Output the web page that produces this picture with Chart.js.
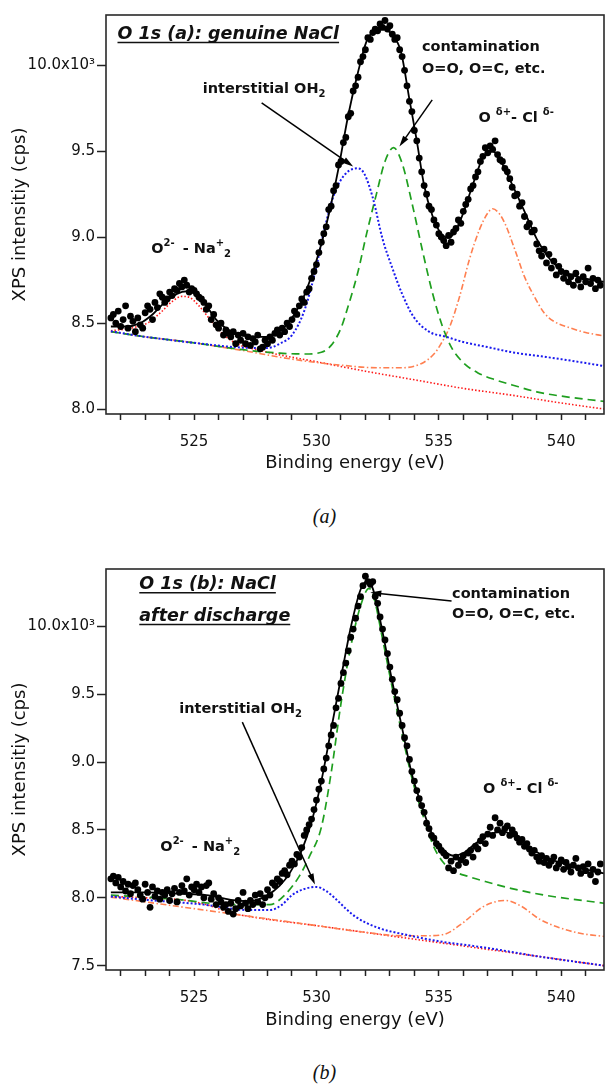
<!DOCTYPE html>
<html>
<head>
<meta charset="utf-8">
<script src="https://cdn.jsdelivr.net/npm/chart.js@4.4.0/dist/chart.umd.min.js"></script>
<style>
    body { margin: 0; background: #fff; width: 608px; height: 1084px; position: relative; overflow: hidden; }
    canvas { position: absolute; left: 0; }
    #chartA { top: 0; }
    #chartB { top: 540px; }
    .caption { position: absolute; left: 0; width: 649px; text-align: center; line-height: 24px;
               font: italic 20px "Liberation Serif", serif; color: #111; }
</style>
</head>
<body>
<canvas id="chartA" width="608" height="476"></canvas>
<div class="caption" style="top:505px">(a)</div>
<canvas id="chartB" width="608" height="493"></canvas>
<div class="caption" style="top:1061px">(b)</div>
<script>
// 測定点のエネルギー (eV)
const energy = [
    521.6, 521.7, 521.8, 521.9, 522.0, 522.1, 522.2, 522.3, 522.4, 522.5,
    522.6, 522.7, 522.8, 522.9, 523.0, 523.1, 523.2, 523.3, 523.4, 523.5,
    523.6, 523.7, 523.8, 523.9, 524.0, 524.1, 524.2, 524.3, 524.4, 524.5,
    524.6, 524.7, 524.8, 524.9, 525.0, 525.1, 525.2, 525.3, 525.4, 525.5,
    525.6, 525.7, 525.8, 525.9, 526.0, 526.1, 526.2, 526.3, 526.4, 526.5,
    526.6, 526.7, 526.8, 526.9, 527.0, 527.1, 527.2, 527.3, 527.4, 527.5,
    527.6, 527.7, 527.8, 527.9, 528.0, 528.1, 528.2, 528.3, 528.4, 528.5,
    528.6, 528.7, 528.8, 528.9, 529.0, 529.1, 529.2, 529.3, 529.4, 529.5,
    529.6, 529.7, 529.8, 529.9, 530.0, 530.1, 530.2, 530.3, 530.4, 530.5,
    530.6, 530.7, 530.8, 530.9, 531.0, 531.1, 531.2, 531.3, 531.4, 531.5,
    531.6, 531.7, 531.8, 531.9, 532.0, 532.1, 532.2, 532.3, 532.4, 532.5,
    532.6, 532.7, 532.8, 532.9, 533.0, 533.1, 533.2, 533.3, 533.4, 533.5,
    533.6, 533.7, 533.8, 533.9, 534.0, 534.1, 534.2, 534.3, 534.4, 534.5,
    534.6, 534.7, 534.8, 534.9, 535.0, 535.1, 535.2, 535.3, 535.4, 535.5,
    535.6, 535.7, 535.8, 535.9, 536.0, 536.1, 536.2, 536.3, 536.4, 536.5,
    536.6, 536.7, 536.8, 536.9, 537.0, 537.1, 537.2, 537.3, 537.4, 537.5,
    537.6, 537.7, 537.8, 537.9, 538.0, 538.1, 538.2, 538.3, 538.4, 538.5,
    538.6, 538.7, 538.8, 538.9, 539.0, 539.1, 539.2, 539.3, 539.4, 539.5,
    539.6, 539.7, 539.8, 539.9, 540.0, 540.1, 540.2, 540.3, 540.4, 540.5,
    540.6, 540.7, 540.8, 540.9, 541.0, 541.1, 541.2, 541.3, 541.4, 541.5,
    541.6
];

// (a) genuine NaCl の計測値 (x10^3 cps)
const countsA = [
    8.53, 8.55, 8.50, 8.57, 8.48, 8.52, 8.60, 8.47, 8.54, 8.51,
    8.45, 8.53, 8.49, 8.47, 8.56, 8.60, 8.58, 8.52, 8.62, 8.59,
    8.67, 8.65, 8.62, 8.64, 8.68, 8.66, 8.70, 8.69, 8.73, 8.71,
    8.75, 8.72, 8.68, 8.70, 8.69, 8.67, 8.65, 8.64, 8.62, 8.58,
    8.60, 8.52, 8.55, 8.49, 8.47, 8.50, 8.43, 8.46, 8.44, 8.42,
    8.45, 8.38, 8.43, 8.40, 8.44, 8.38, 8.42, 8.37, 8.41, 8.39,
    8.43, 8.35, 8.36, 8.40, 8.38, 8.42, 8.40, 8.44, 8.46, 8.43,
    8.47, 8.45, 8.50, 8.48, 8.52, 8.57, 8.55, 8.60, 8.64, 8.62,
    8.68, 8.70, 8.76, 8.80, 8.84, 8.91, 8.97, 9.02, 9.06, 9.16,
    9.18, 9.27, 9.30, 9.42, 9.44, 9.55, 9.58, 9.70, 9.72, 9.85,
    9.88, 9.93, 10.02, 10.05, 10.09, 10.16, 10.15, 10.19, 10.21, 10.20,
    10.24, 10.22, 10.26, 10.21, 10.23, 10.18, 10.15, 10.16, 10.09, 10.05,
    9.97, 9.88, 9.79, 9.73, 9.62, 9.56, 9.46, 9.38, 9.30, 9.25,
    9.18, 9.16, 9.10, 9.07, 9.02, 9.00, 8.98, 8.95, 9.01, 8.97,
    9.03, 9.05, 9.10, 9.08, 9.15, 9.19, 9.22, 9.28, 9.30, 9.35,
    9.38, 9.44, 9.47, 9.52, 9.49, 9.53, 9.51, 9.56, 9.48, 9.45,
    9.44, 9.40, 9.38, 9.34, 9.29, 9.24, 9.25, 9.18, 9.20, 9.12,
    9.06, 9.08, 9.03, 9.04, 8.96, 8.92, 8.89, 8.93, 8.85, 8.90,
    8.82, 8.86, 8.78, 8.83, 8.80, 8.76, 8.79, 8.74, 8.77, 8.72,
    8.79, 8.75, 8.71, 8.77, 8.74, 8.82, 8.73, 8.76, 8.70, 8.75,
    8.72
];

// (b) NaCl after discharge の計測値 (x10^3 cps)
const countsB = [
    8.14, 8.16, 8.11, 8.15, 8.08, 8.12, 8.05, 8.10, 8.03, 8.09,
    8.11, 8.06, 8.02, 7.99, 8.10, 8.04, 7.93, 8.08, 8.01, 8.05,
    7.99, 8.04, 8.02, 8.06, 7.98, 8.03, 8.07, 7.97, 8.04, 8.09,
    8.05, 8.14, 8.02, 8.08, 8.06, 8.10, 8.04, 8.08, 8.00, 8.09,
    8.11, 7.99, 8.03, 7.95, 8.00, 7.97, 7.93, 7.95, 7.90, 7.96,
    7.88, 7.92, 7.98, 7.94, 8.04, 7.96, 7.92, 7.98, 7.95, 8.02,
    7.97, 8.03, 7.95, 8.00, 8.06, 8.02, 8.11, 8.09, 8.14, 8.12,
    8.18, 8.20, 8.17, 8.24, 8.27, 8.25, 8.32, 8.30, 8.37, 8.46,
    8.50, 8.54, 8.58, 8.65, 8.72, 8.80, 8.86, 8.95, 9.03, 9.12,
    9.20, 9.27, 9.40, 9.47, 9.58, 9.66, 9.73, 9.82, 9.92, 9.98,
    10.06, 10.15, 10.22, 10.30, 10.37, 10.33, 10.31, 10.33, 10.22, 10.17,
    10.07, 9.98, 9.90, 9.80, 9.70, 9.61, 9.52, 9.46, 9.36, 9.27,
    9.18, 9.12, 9.02, 8.93, 8.86, 8.79, 8.73, 8.68, 8.63, 8.55,
    8.51, 8.46, 8.44, 8.40, 8.38, 8.35, 8.33, 8.31, 8.22, 8.27,
    8.20, 8.30, 8.24, 8.28, 8.31, 8.26, 8.33, 8.35, 8.30, 8.38,
    8.36, 8.42, 8.45, 8.40, 8.47, 8.52, 8.46, 8.59, 8.50, 8.55,
    8.48, 8.51, 8.53, 8.46, 8.50, 8.47, 8.44, 8.41, 8.43, 8.38,
    8.40, 8.36, 8.33, 8.35, 8.30, 8.27, 8.31, 8.26, 8.29, 8.24,
    8.27, 8.30, 8.22, 8.25, 8.28, 8.21, 8.26, 8.23, 8.19, 8.24,
    8.29, 8.22, 8.18, 8.23, 8.20, 8.25, 8.17, 8.21, 8.12, 8.19,
    8.25
];

// フィット曲線と成分 [eV, x10^3 cps]
const fitA = [
    [521.6, 8.48], [522.2, 8.48], [522.8, 8.50], [523.3, 8.55], [523.8, 8.62], [524.3, 8.67],
    [524.7, 8.685], [525.1, 8.665], [525.5, 8.60], [525.9, 8.52], [526.3, 8.47], [526.8, 8.435],
    [527.4, 8.42], [528.0, 8.42], [528.4, 8.44], [528.9, 8.51], [529.5, 8.66], [530.1, 8.91],
    [530.5, 9.13], [530.9, 9.40], [531.3, 9.71], [531.7, 9.96], [532.05, 10.14], [532.4, 10.205],
    [532.7, 10.225], [533.0, 10.19], [533.45, 10.08], [533.8, 9.80], [534.1, 9.56], [534.4, 9.30],
    [534.75, 9.12], [535.05, 9.03], [535.4, 8.995], [535.7, 9.04], [536.0, 9.14], [536.4, 9.31],
    [536.8, 9.46], [537.2, 9.50], [537.5, 9.45], [537.95, 9.32], [538.5, 9.15], [539.0, 8.99],
    [539.55, 8.87], [540.1, 8.80], [540.65, 8.77], [541.75, 8.74]
];
const naA = [
    [521.6, 8.455], [522.2, 8.465], [522.7, 8.48], [523.1, 8.50], [523.7, 8.57], [524.1, 8.625],
    [524.5, 8.655], [524.8, 8.65], [525.2, 8.60], [525.6, 8.53], [526.0, 8.46], [526.4, 8.41],
    [526.9, 8.37], [527.4, 8.35], [528.5, 8.315], [530.0, 8.275], [532.0, 8.22], [534.0, 8.17],
    [536.0, 8.12], [538.0, 8.08], [540.0, 8.035], [541.75, 8.00]
];
const ohA = [
    [521.6, 8.452], [523.0, 8.42], [525.0, 8.385], [527.0, 8.357], [528.0, 8.355], [528.5, 8.38],
    [529.0, 8.43], [529.5, 8.57], [529.95, 8.80], [530.35, 9.06], [530.75, 9.26], [531.2, 9.37],
    [531.7, 9.40], [531.95, 9.37], [532.3, 9.23], [532.7, 8.99], [533.1, 8.82], [533.5, 8.67],
    [533.95, 8.54], [534.6, 8.45], [535.3, 8.42], [536.0, 8.39], [537.0, 8.36], [538.0, 8.33],
    [539.0, 8.31], [540.0, 8.29], [541.75, 8.25]
];
const contA = [
    [521.6, 8.45], [523.0, 8.42], [525.0, 8.385], [527.0, 8.345], [528.5, 8.325], [529.5, 8.32],
    [530.2, 8.33], [530.6, 8.37], [531.0, 8.47], [531.3, 8.60], [531.7, 8.80], [532.05, 9.02],
    [532.45, 9.25], [532.8, 9.44], [533.15, 9.52], [533.5, 9.43], [533.9, 9.20], [534.35, 8.91],
    [534.75, 8.67], [535.15, 8.48], [535.55, 8.35], [536.0, 8.27], [536.6, 8.21], [537.3, 8.17],
    [538.0, 8.14], [539.0, 8.10], [540.0, 8.075], [541.75, 8.044]
];
const clA = [
    [521.6, 8.45], [523.0, 8.42], [525.0, 8.385], [527.0, 8.34], [529.0, 8.29], [531.0, 8.255],
    [532.5, 8.24], [533.5, 8.24], [534.3, 8.265], [534.8, 8.32], [535.05, 8.37], [535.45, 8.48],
    [535.85, 8.655], [536.25, 8.87], [536.65, 9.04], [537.0, 9.14], [537.2, 9.165], [537.45, 9.14],
    [537.7, 9.08], [538.1, 8.93], [538.5, 8.77], [538.9, 8.655], [539.3, 8.56], [539.7, 8.51],
    [540.4, 8.47], [541.0, 8.445], [541.75, 8.425]
];

const fitB = [
    [521.6, 8.04], [523.0, 8.04], [524.5, 8.03], [525.5, 8.02], [526.5, 7.985], [527.3, 7.975],
    [528.0, 8.02], [528.5, 8.09], [528.9, 8.18], [529.4, 8.35], [529.8, 8.56], [530.2, 8.86],
    [530.6, 9.24], [531.0, 9.62], [531.4, 9.99], [531.8, 10.27], [532.05, 10.33], [532.3, 10.28],
    [532.7, 9.96], [533.1, 9.59], [533.5, 9.25], [533.9, 8.91], [534.3, 8.68], [534.7, 8.48],
    [535.1, 8.37], [535.6, 8.31], [536.0, 8.33], [536.5, 8.40], [537.0, 8.46], [537.6, 8.49],
    [538.2, 8.44], [538.7, 8.37], [539.5, 8.29], [540.5, 8.23], [541.75, 8.18]
];
const naB = [
    [521.6, 8.01], [523.0, 8.00], [524.5, 7.985], [525.5, 7.95], [526.5, 7.89], [527.5, 7.855],
    [530.0, 7.795], [533.0, 7.72], [536.0, 7.645], [539.0, 7.57], [541.75, 7.50]
];
const ohB = [
    [521.6, 8.01], [522.7, 7.99], [525.4, 7.95], [527.2, 7.91], [528.1, 7.91], [528.6, 7.95],
    [529.0, 8.02], [529.5, 8.065], [530.0, 8.08], [530.4, 8.05], [530.8, 7.99], [531.2, 7.92],
    [531.6, 7.86], [532.5, 7.78], [533.6, 7.73], [535.0, 7.68], [537.0, 7.63], [539.0, 7.57],
    [541.75, 7.50]
];
const contB = [
    [521.6, 8.02], [524.2, 7.99], [526.5, 7.95], [528.1, 7.95], [528.7, 8.02], [529.3, 8.16],
    [529.7, 8.30], [530.2, 8.52], [530.6, 8.92], [531.0, 9.43], [531.4, 9.85], [531.8, 10.15],
    [532.15, 10.28], [532.35, 10.21], [532.72, 9.89], [533.13, 9.52], [533.54, 9.17], [533.94, 8.855],
    [534.35, 8.61], [534.76, 8.39], [535.16, 8.265], [535.57, 8.20], [536.25, 8.155], [536.9, 8.12],
    [537.94, 8.07], [539.3, 8.02], [541.75, 7.96]
];
const clB = [
    [521.6, 8.005], [524.0, 7.945], [527.0, 7.87], [530.0, 7.795], [532.0, 7.745], [533.5, 7.72],
    [534.4, 7.72], [535.2, 7.73], [535.98, 7.815], [536.77, 7.93], [537.4, 7.975], [537.72, 7.98],
    [538.35, 7.94], [539.14, 7.84], [539.93, 7.78], [540.72, 7.74], [541.75, 7.715]
];

// 軸の目盛り
const xRange = [521.4, 541.75];
const xTicks = [522, 523, 524, 525, 526, 527, 528, 529, 530, 531, 532, 533, 534, 535, 536, 537, 538, 539, 540, 541];
const xLabels = [525, 530, 535, 540];
const yRangeA = [7.971, 10.292];
const yTicksA = [8.0, 8.5, 9.0, 9.5, 10.0];
const yRangeB = [7.468, 10.423];
const yTicksB = [7.5, 8.0, 8.5, 9.0, 9.5, 10.0];

const FONT = 'DejaVu Sans';
const pts = arr => arr.map(([x, y]) => ({ x, y }));
const dots = counts => energy.map((e, i) => ({ x: e, y: counts[i] }));

const curve = (data, color, dash, width, order) => ({
    data: pts(data),
    showLine: true,
    borderColor: color,
    borderWidth: width,
    borderDash: dash,
    pointRadius: 0,
    fill: false,
    cubicInterpolationMode: 'monotone',
    order
});

// 上付き・下付きを含む文字列
function drawRich(ctx, x, y, parts, o = {}) {
    const size = o.size || 14.5;
    const base = o.baseline ? y : y + size * 0.36;
    let cx = x;
    ctx.fillStyle = '#111';
    ctx.textAlign = 'left';
    ctx.textBaseline = 'alphabetic';
    parts.forEach(p => {
        const s = p.sup || p.sub ? 10 : size;
        ctx.font = `${o.italic ? 'italic ' : ''}bold ${s}px "${FONT}"`;
        ctx.fillText(p.t, cx, base + (p.sup ? -7 : p.sub ? 4 : 0));
        cx += ctx.measureText(p.t).width + (p.gap || 0);
    });
    if (o.underline) {
        ctx.strokeStyle = '#111';
        ctx.lineWidth = 1.5;
        ctx.beginPath();
        ctx.moveTo(x, base + 3.5);
        ctx.lineTo(cx, base + 3.5);
        ctx.stroke();
    }
}

function drawArrow(ctx, x1, y1, x2, y2) {
    const a = Math.atan2(y2 - y1, x2 - x1);
    const L = 11, W = 3.2;
    const c = Math.cos(a), s = Math.sin(a);
    ctx.strokeStyle = '#000';
    ctx.fillStyle = '#000';
    ctx.lineWidth = 1.5;
    ctx.beginPath();
    ctx.moveTo(x1, y1);
    ctx.lineTo(x2 - L * 0.8 * c, y2 - L * 0.8 * s);
    ctx.stroke();
    ctx.beginPath();
    ctx.moveTo(x2, y2);
    ctx.lineTo(x2 - L * c + W * s, y2 - L * s - W * c);
    ctx.lineTo(x2 - L * c - W * s, y2 - L * s + W * c);
    ctx.closePath();
    ctx.fill();
}

// 枠線・ラベル・矢印
const makeNotes = spec => ({
    id: 'notes',
    afterDatasetsDraw(chart) {
        const { ctx, chartArea: ca } = chart;
        const px = v => chart.scales.x.getPixelForValue(v);
        const py = v => chart.scales.y.getPixelForValue(v);
        ctx.save();
        ctx.strokeStyle = '#2a2a2a';
        ctx.lineWidth = 1.6;
        ctx.strokeRect(ca.left, ca.top, ca.right - ca.left, ca.bottom - ca.top);
        spec.labels.forEach(l => drawRich(ctx, px(l.at[0]), py(l.at[1]), l.parts, l.opt));
        spec.arrows.forEach(a => drawArrow(ctx, px(a[0]), py(a[1]), px(a[2]), py(a[3])));
        ctx.restore();
    }
});

const tickFont = { family: FONT, size: 15 };
const titleFont = { family: FONT, size: 18 };

function makeScales(yTicks, yRange, xHeight) {
    return {
        x: {
            type: 'linear',
            min: xRange[0],
            max: xRange[1],
            afterBuildTicks: s => {
                s.ticks = xTicks.map(v => ({ value: v }));
                s.min = xRange[0];
                s.max = xRange[1];
            },
            afterFit: s => { s.height = xHeight; },
            ticks: {
                autoSkip: false, maxRotation: 0, padding: 13, color: '#111', font: tickFont,
                callback: v => (xLabels.includes(v) ? String(v) : '')
            },
            grid: { drawOnChartArea: false, drawTicks: true, tickLength: 6, tickColor: '#222', tickWidth: 1.5 },
            border: { display: false },
            title: { display: true, text: 'Binding energy (eV)', color: '#111', font: titleFont, padding: { top: 0, bottom: 2 } }
        },
        y: {
            type: 'linear',
            min: yRange[0],
            max: yRange[1],
            afterBuildTicks: s => {
                s.ticks = yTicks.map(v => ({ value: v }));
                s.min = yRange[0];
                s.max = yRange[1];
            },
            afterFit: s => { s.width = 106; },
            ticks: {
                autoSkip: false, padding: 2, color: '#111', font: tickFont,
                callback: v => (v === 10 ? '10.0x10³' : v.toFixed(1))
            },
            grid: { drawOnChartArea: false, drawTicks: true, tickLength: 9, tickColor: '#222', tickWidth: 1.5 },
            border: { display: false },
            title: { display: true, text: 'XPS intensitiy (cps)', color: '#111', font: titleFont, padding: { top: 10, bottom: 0 } }
        }
    };
}

function makeChart(id, c) {
    const datasets = [
        { data: dots(c.counts), showLine: false, pointRadius: 3.4, pointBackgroundColor: '#000', pointBorderWidth: 0, order: 0 },
        curve(c.fit, '#000', [], 1.8, 1),
        curve(c.na, '#ff1a1a', [1.5, 2], 1.6, 5),
        curve(c.cl, '#ff7f50', [6, 2.5, 1.5, 2.5], 1.6, 4),
        curve(c.cont, '#1f9f1f', [8, 5], 1.7, 3),
        curve(c.oh, '#1a1aee', [2, 2], 2, 2)
    ];
    return new Chart(document.getElementById(id), {
        type: 'scatter',
        data: { datasets },
        options: {
            responsive: false,
            animation: false,
            devicePixelRatio: 1,
            layout: { padding: { left: 0, right: 1.5, top: c.padTop, bottom: 0 } },
            plugins: { legend: { display: false }, tooltip: { enabled: false } },
            scales: makeScales(c.yTicks, c.yRange, c.xHeight)
        },
        plugins: [makeNotes(c.notes)]
    });
}

const naLabel = [{ t: 'O' }, { t: '2-', sup: true, gap: 3 }, { t: ' - Na' }, { t: '+', sup: true }, { t: '2', sub: true }];
const clLabel = [{ t: 'O ' }, { t: 'δ+', sup: true }, { t: '- Cl ' }, { t: 'δ-', sup: true }];
const ohLabel = [{ t: 'interstitial OH' }, { t: '2', sub: true }];

makeChart('chartA', {
    counts: countsA, fit: fitA, na: naA, oh: ohA, cont: contA, cl: clA,
    yTicks: yTicksA, yRange: yRangeA, padTop: 15, xHeight: 62,
    notes: {
        labels: [
            { at: [521.87, 10.153], parts: [{ t: 'O 1s (a): genuine NaCl' }], opt: { size: 17.5, italic: true, underline: true, baseline: true } },
            { at: [534.31, 10.112], parts: [{ t: 'contamination' }] },
            { at: [534.31, 9.985], parts: [{ t: 'O=O, O=C, etc.' }] },
            { at: [525.35, 9.868], parts: ohLabel },
            { at: [536.62, 9.701], parts: clLabel },
            { at: [523.25, 8.936], parts: naLabel }
        ],
        arrows: [
            [527.76, 9.781, 531.50, 9.411],
            [534.73, 9.798, 533.39, 9.527]
        ]
    }
});

makeChart('chartB', {
    counts: countsB, fit: fitB, na: naB, oh: ohB, cont: contB, cl: clB,
    yTicks: yTicksB, yRange: yRangeB, padTop: 29, xHeight: 63,
    notes: {
        labels: [
            { at: [522.76, 10.274], parts: [{ t: 'O 1s (b): NaCl' }], opt: { size: 17.5, italic: true, underline: true, baseline: true } },
            { at: [522.76, 10.040], parts: [{ t: 'after discharge' }], opt: { size: 17.5, italic: true, underline: true, baseline: true } },
            { at: [535.54, 10.249], parts: [{ t: 'contamination' }] },
            { at: [535.54, 10.102], parts: [{ t: 'O=O, O=C, etc.' }] },
            { at: [524.39, 9.401], parts: ohLabel },
            { at: [536.81, 8.811], parts: clLabel },
            { at: [523.62, 8.381], parts: naLabel }
        ],
        arrows: [
            [535.52, 10.187, 532.20, 10.249],
            [526.97, 9.295, 529.94, 8.098]
        ]
    }
});
</script>
</body>
</html>
